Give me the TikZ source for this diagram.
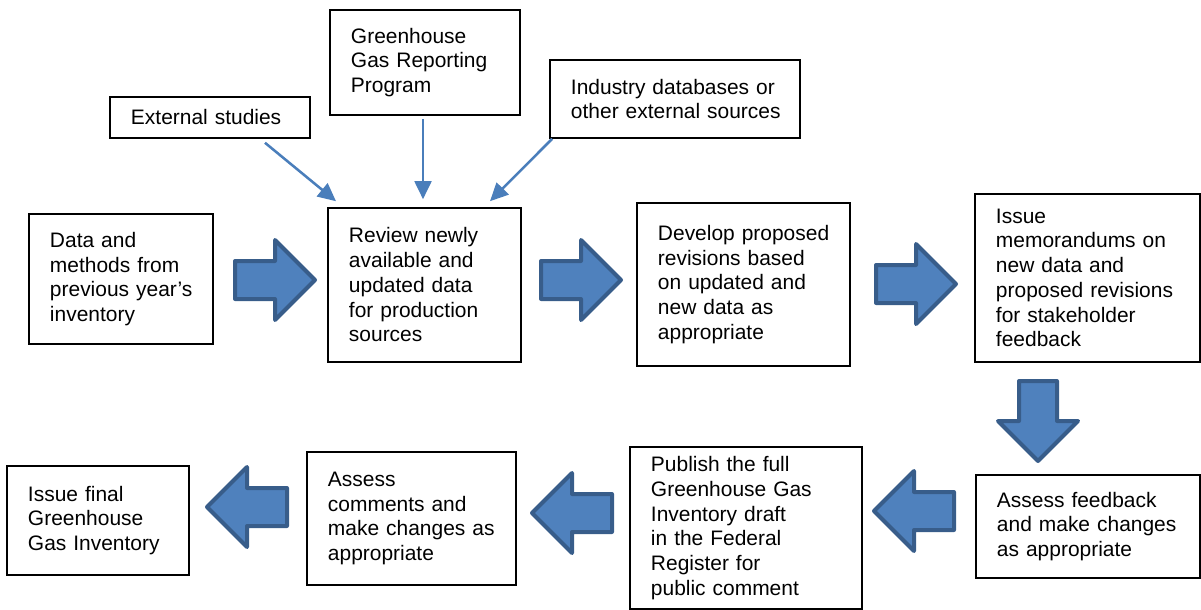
\documentclass[tikz,border=0pt]{standalone}
\usepackage{fontspec}
\setmainfont{Liberation Sans}
\usepackage{tikz}
\usetikzlibrary{arrows.meta,calc}

\definecolor{arrowfill}{HTML}{4F81BD}
\definecolor{arrowline}{HTML}{385D8A}
\definecolor{feedline}{HTML}{4A7EBB}
\hyphenpenalty=10000

\begin{document}
\begin{tikzpicture}[x=0.025cm,y=-0.025cm,
      box/.style={draw=black, line width=1.1pt, inner xsep=0.525cm, inner ysep=0pt,
        align=left, font=\fontsize{14.9pt}{17.6pt}\selectfont},
      feed/.style={draw=feedline, line width=1.8pt, -{Triangle[length=0.45cm,width=0.42cm]}},
      blockarrow/.style={draw=arrowline, fill=arrowfill, line width=0.1cm, line join=round},
      bigarrow/.pic={\draw[blockarrow] (0,0) -- (-40,40) -- (-40,19) -- (-80,19)
        -- (-80,-19) -- (-40,-19) -- (-40,-40) -- cycle;}]
    \useasboundingbox (0,0) rectangle (1201,610);

    \node[box, text width=3.95cm, minimum height=1.025cm] (ext) at (210,117.5) {External studies};
    \node[box, text width=3.7cm, minimum height=2.625cm] (ghgrp) at (425,62.5) {Greenhouse\\ Gas~Reporting\\ Program};
    \node[box, text width=5.2cm, minimum height=1.95cm] (industry) at (675,99) {Industry~databases~or\\ other~external~sources};

    \node[box, text width=3.55cm, minimum height=3.25cm] (data) at (121,279) {Data and\\ methods~from\\ previous~year's\\ inventory};
    \node[box, text width=3.775cm, minimum height=3.85cm] (review) at (424.5,285) {Review~newly\\ available~and\\ updated~data\\ for~production\\ sources};
    \node[box, text width=4.275cm, minimum height=4.075cm] (develop) at (743.5,284.5) {Develop~proposed\\ revisions~based\\ on~updated~and\\ new data as\\ appropriate};
    \node[box, text width=4.575cm, minimum height=4.2cm] (memo) at (1087.5,278) {Issue\\ memorandums~on\\ new data and\\ proposed~revisions\\ for~stakeholder\\ feedback};

    \node[box, text width=4.55cm, minimum height=2.575cm] (feedback) at (1088,526.5) {Assess~feedback\\ and~make~changes\\ as~appropriate};
    \node[box, text width=4.75cm, minimum height=4.05cm] (publish) at (746,528) {Publish~the~full\\ Greenhouse~Gas\\ Inventory~draft\\ in the Federal\\ Register for\\ public~comment};
    \node[box, text width=4.175cm, minimum height=3.325cm] (comments) at (411.5,518.5) {Assess\\ comments~and\\ make~changes~as\\ appropriate};
    \node[box, text width=3.5cm, minimum height=2.725cm] (final) at (98,520.5) {Issue final\\ Greenhouse\\ Gas~Inventory};

    \draw[feed] ($(ext.south)+(55,4)$) -- ($(review.north)+(-88.5,-6)$);
    \draw[feed] ($(ghgrp.south)+(-2,3)$) -- ($(review.north)+(-1.5,-8)$);
    \draw[feed] ($(industry.south west)+(3,0)$) -- ($(review.north)+(65.5,-6)$);

    \pic at (315,280) {bigarrow};
    \pic at (621,280) {bigarrow};
    \pic at (956,284) {bigarrow};
    \pic[rotate=-90] at (1038,461) {bigarrow};
    \pic[rotate=180] at (874,511) {bigarrow};
    \pic[rotate=180] at (532,513) {bigarrow};
    \pic[rotate=180] at (207,507) {bigarrow};
  \end{tikzpicture}
\end{document}
